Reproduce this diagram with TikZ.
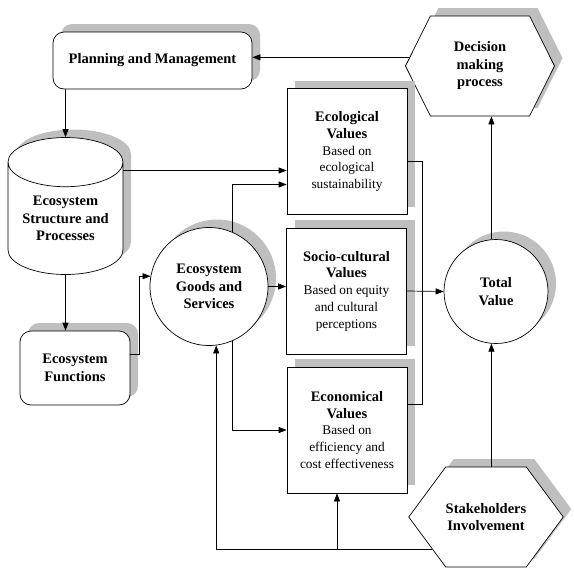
\documentclass[tikz,border=0pt]{standalone}
\usepackage{fontspec}
\setmainfont{Liberation Serif}
\usetikzlibrary{shapes.geometric,shapes.symbols,shadows,arrows.meta}

\newcommand{\valtitle}[1]{{\fontsize{14.5}{17}\selectfont\bfseries #1}}

\begin{document}
\begin{tikzpicture}[x=1pt, y=-1pt, line width=0.7pt,
    grayshadow/.style={drop shadow={shadow xshift=8pt, shadow yshift=8pt, opacity=1, fill=black!25}},
    boldtext/.style={font=\fontsize{14.5}{17.5}\selectfont\bfseries, align=center},
    roundbox/.style={draw, fill=white, rounded corners=11pt, grayshadow, boldtext, inner sep=0pt},
    valuebox/.style={draw, fill=white, grayshadow, minimum width=120pt, minimum height=126pt, inner sep=0pt, align=center, font=\fontsize{13.3}{16.8}\selectfont},
    ring/.style={draw, circle, fill=white, grayshadow, boldtext, inner sep=0pt},
    hexa/.style={draw, fill=white, signal, signal to=west and east, signal pointer angle=127, minimum width=149pt, minimum height=100pt, grayshadow, boldtext, inner sep=0pt},
    arr/.style={-{Triangle[length=8pt,width=6pt]}}]
    \useasboundingbox (0,0) rectangle (574,574);

    % boxes, drum and hexagons
    \node[roundbox, minimum width=199pt, minimum height=57pt] (plan) at (152.5,60.5) {Planning and Management};
    \node[hexa] (dec) at (480,66) {Decision\\ making\\ process};
    \node[draw, fill=white, cylinder, shape border rotate=90, aspect=0.57, minimum width=115pt, minimum height=137pt, grayshadow, boldtext, inner sep=0pt, anchor=shape center] (cyl) at (65.5,206) {Ecosystem\\ Structure and\\ Processes};
    \node[roundbox, minimum width=110pt, minimum height=74pt] (funcs) at (75,368) {Ecosystem\\ Functions};
    \node[ring, minimum size=118pt] (goods) at (209,286.5) {Ecosystem\\ Goods and\\ Services};

    % the three kinds of values
    \node[valuebox] (eco) at (347,151.5) {\valtitle{Ecological}\\ \valtitle{Values}\\ Based on\\ ecological\\ sustainability};
    \node[valuebox] (socio) at (346.5,291) {\valtitle{Socio-cultural}\\ \valtitle{Values}\\ Based on equity\\ and cultural\\ perceptions};
    \node[valuebox] (econ) at (347,430) {\valtitle{Economical}\\ \valtitle{Values}\\ Based on\\ efficiency and\\ cost effectiveness};

    \node[ring, minimum size=104pt] (total) at (496,291.5) {Total\\ Value};
    \node[hexa, signal pointer angle=107, minimum width=148pt] (stake) at (486,517) {Stakeholders\\ Involvement};

    % connectors
    \draw[arr] (dec.173) -- (dec.173 -| plan.east);
    \draw[arr] (cyl.south |- plan.south) -- (cyl.north);
    \draw[arr] (cyl.south) -- (cyl.south |- funcs.north);
    \draw[arr] ([yshift=-19pt]eco.west -| cyl.east) -- ([yshift=-19pt]eco.west);
    \draw[arr] ([yshift=14pt]funcs.east) -- ++(9,0) |- (goods.170);
    \draw[arr] (goods.67) |- ([yshift=-33pt]eco.west);
    \draw[arr] (goods.east) -- (goods.east -| socio.west);
    \draw[arr] (goods.-67) |- (econ.west);
    \draw ([yshift=-10pt]eco.east) -- ++(15,0) |- ([yshift=26pt]econ.east);
    \draw[arr] (socio.east) -- (total.west);
    \draw[arr] (total.95) -- (total.95 |- dec.south);
    \draw[arr] (total.265 |- stake.north) -- (total.265);
    \draw[arr] (stake.211) -| (goods.277);
    \draw[arr] ([xshift=-10pt]econ.south |- stake.211) -- ([xshift=-10pt]econ.south);
\end{tikzpicture}
\end{document}
